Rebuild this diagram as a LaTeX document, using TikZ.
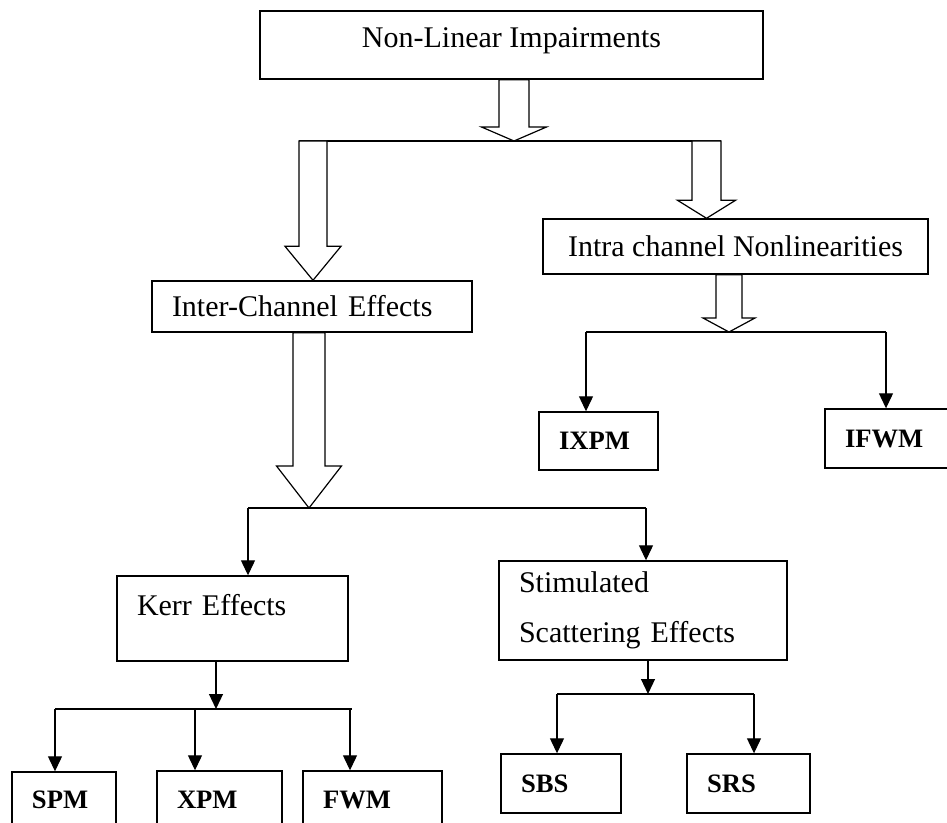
\documentclass[tikz,border=0pt]{standalone}
\usepackage{fontspec}
\setmainfont{Liberation Serif}
\usetikzlibrary{positioning,calc,arrows.meta}

% hollow block arrow: start, tip, shaft half width, head half width, head length
\newcommand\hollowarrow[5]{%
  \draw[fill=white] let \p1=(#1), \p2=(#2) in
    (\x1-#3,\y1) -- (\x1-#3,\y2+#5) -- (\x1-#4,\y2+#5) -- (\x1,\y2)
    -- (\x1+#4,\y2+#5) -- (\x1+#3,\y2+#5) -- (\x1+#3,\y1) -- cycle;}

\begin{document}
\begin{tikzpicture}[x=0.5pt, y=-0.5pt, line width=0.6pt,
	box/.style = { draw, line width=0.7pt, font=\fontsize{15}{18}\selectfont },
	lbox/.style = { box, align=left, inner xsep=10pt, inner ysep=0pt, text width=#1 },
	tag/.style = { lbox=#1, font=\fontsize{13.3}{16}\selectfont\bfseries },
	link/.style = { -{Triangle[length=7.5pt,width=7pt]} }]

  \useasboundingbox (0,0) rectangle (947,823);

  \node[box, minimum width=251.5pt, inner ysep=0pt, text height=18.5pt, text depth=15.5pt] (nli) at (511.5,45) {Non-Linear Impairments};
  \node[box, minimum width=192.5pt, minimum height=27.5pt] (intra) at (735.5,246.5) {Intra channel Nonlinearities};
  \node[lbox=140pt, minimum height=25.5pt] (inter) at (312,306.5) {Inter-Channel Effects};
  \node[tag=39.5pt, minimum height=29pt] (ixpm) at (598.5,441) {IXPM};
  \node[tag=42.5pt, minimum height=29.5pt] (ifwm) at (887.5,438.5) {IFWM};
  \node[lbox=95.5pt, text height=19.5pt, text depth=23pt] (kerr) at (232.5,618.5) {Kerr Effects};
  \node[lbox=124pt, minimum height=49.5pt, font=\fontsize{15}{25}\selectfont] (stim) at (643,610.5) {Stimulated\\Scattering Effects};
  \node[tag=32pt, minimum height=28pt] (spm) at (64,800) {SPM};
  \node[tag=42.5pt, minimum height=28.5pt] (xpm) at (219.5,799.5) {XPM};
  \node[tag=49.5pt, minimum height=28.5pt] (fwm) at (372.5,799.5) {FWM};
  \node[tag=40pt, minimum height=29.5pt] (sbs) at (561,783.5) {SBS};
  \node[tag=41.5pt, minimum height=29.5pt] (srs) at (748.5,783.5) {SRS};

  % split points
  \coordinate (s1) at (514,141);
  \coordinate (s1l) at (299,141);
  \coordinate (s1r) at (721,141);
  \coordinate (a1) at (313,141);
  \coordinate (a2) at (706.5,141);
  \coordinate (s2) at (729,332);
  \coordinate (s2l) at (586,332);
  \coordinate (s2r) at (886,332);
  \coordinate (s3) at (309,508);
  \coordinate (s3l) at (248,508);
  \coordinate (s3r) at (646,508);
  \coordinate (s4) at (216,709);
  \coordinate (s4l) at (55,709);
  \coordinate (s4m) at (195,709);
  \coordinate (s4f) at (350,709);
  \coordinate (s4r) at (352,709);
  \coordinate (s5) at (648,694);
  \coordinate (s5l) at (557,694);
  \coordinate (s5r) at (754,694);

  \draw (s1l) -- (s1r);
  \hollowarrow{nli.south -| s1}{s1}{7.5pt}{16.25pt}{7pt}
  \hollowarrow{a1}{a1 |- inter.north}{7pt}{14pt}{17pt}
  \hollowarrow{a2}{a2 |- intra.north}{7.25pt}{14.5pt}{9pt}

  \draw (s2l) -- (s2r);
  \hollowarrow{intra.south -| s2}{s2}{6.5pt}{13pt}{7pt}
  \draw[link] (s2l) -- (s2l |- ixpm.north);
  \draw[link] (s2r) -- (s2r |- ifwm.north);

  \draw (s3l) -- (s3r);
  \hollowarrow{inter.south -| s3}{s3}{8pt}{16.25pt}{21pt}
  \draw[link] (s3l) -- (s3l |- kerr.north);
  \draw[link] (s3r) -- (s3r |- stim.north);

  \draw[link] (kerr.south -| s4) -- (s4);
  \draw (s4l) -- (s4r);
  \draw[link] (s4l) -- (s4l |- spm.north);
  \draw[link] (s4m) -- (s4m |- xpm.north);
  \draw[link] (s4f) -- (s4f |- fwm.north);

  \draw[link] (stim.south -| s5) -- (s5);
  \draw (s5l) -- (s5r);
  \draw[link] (s5l) -- (s5l |- sbs.north);
  \draw[link] (s5r) -- (s5r |- srs.north);
\end{tikzpicture}
\end{document}
